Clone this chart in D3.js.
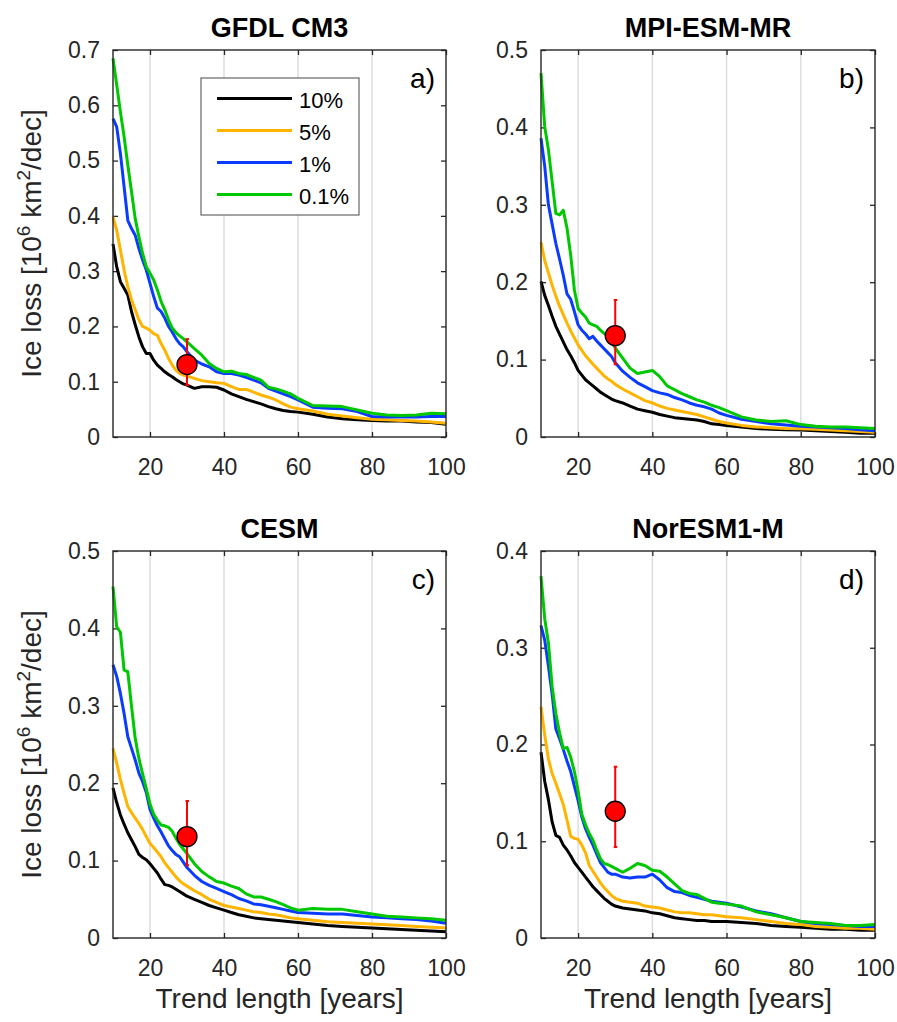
<!DOCTYPE html>
<html lang="en">
<head>
    <meta charset="UTF-8">
    <title>Ice loss vs trend length</title>
    <script src="https://d3js.org/d3.v7.min.js"></script>
    <style>
        body { margin: 0; background: #fff; }
        svg { font-family: "Liberation Sans", Arial, Helvetica, sans-serif; }
        .tick text { fill: #262626; font-size: 23px; }
        .tick line { stroke: #262626; stroke-width: 1.3; }
    </style>
</head>
<body>
<svg id="chart" width="897" height="1022"></svg>
<script>
    // trend lengths (years) at which the curves were read
    const years = [10, 11, 12, 13, 14, 15, 16, 17, 18, 19, 20, 21, 22, 23, 24, 25, 26, 27, 28, 29, 30,
        32, 34, 36, 38, 40, 42, 44, 46, 48, 50, 52, 54, 56, 58, 60,
        64, 68, 72, 76, 80, 84, 88, 92, 96, 100];

    const seriesLabels = ["10%", "5%", "1%", "0.1%"];
    const seriesColors = ["#000000", "#FFB400", "#0A3CFF", "#00C800"];

    // GFDL CM3
    const gfdl10 = [.349, .308, .281, .269, .257, .227, .203, .181, .163, .151, .151, .139, .130, .124, .118, .113, .109, .104, .100, .096, .094,
        .088, .091, .091, .090, .085, .078, .073, .068, .064, .060, .055, .051, .048, .046, .045,
        .041, .036, .033, .031, .030, .029, .029, .027, .026, .023];
    const gfdl5 = [.398, .374, .338, .302, .272, .248, .230, .212, .200, .197, .193, .187, .184, .169, .157, .142, .130, .121, .115, .112, .110,
        .106, .102, .100, .098, .097, .091, .086, .086, .081, .076, .072, .067, .060, .054, .051,
        .047, .041, .038, .035, .032, .031, .030, .029, .027, .025];
    const gfdl1 = [.576, .561, .513, .453, .392, .377, .365, .341, .320, .302, .278, .254, .233, .227, .215, .200, .190, .178, .169, .163, .154,
        .139, .132, .127, .118, .115, .115, .112, .108, .103, .098, .088, .083, .078, .073, .067,
        .054, .052, .051, .046, .037, .036, .036, .036, .037, .037];
    const gfdl01 = [.685, .637, .588, .543, .492, .444, .395, .362, .332, .308, .296, .284, .266, .245, .230, .212, .197, .189, .183, .178, .172,
        .160, .148, .133, .124, .118, .119, .115, .113, .108, .103, .090, .087, .083, .078, .070,
        .057, .056, .055, .049, .043, .040, .039, .040, .043, .042];

    // MPI-ESM-MR
    const mpi10 = [.201, .183, .170, .156, .143, .133, .123, .113, .105, .096, .086, .080, .074, .070, .066, .062, .058, .055, .052, .049, .047,
        .044, .040, .036, .034, .032, .029, .027, .025, .024, .023, .022, .020, .017, .016, .015,
        .013, .011, .010, .0095, .009, .008, .007, .006, .005, .005];
    const mpi5 = [.252, .228, .212, .196, .182, .169, .158, .147, .137, .128, .119, .112, .105, .0995, .094, .089, .084, .079, .075, .072, .068,
        .062, .057, .052, .047, .044, .040, .037, .035, .033, .031, .029, .026, .023, .020, .018,
        .015, .013, .012, .011, .0105, .010, .009, .008, .007, .006];
    const mpi1 = [.386, .350, .300, .275, .250, .230, .209, .185, .178, .162, .145, .138, .133, .127, .130, .124, .119, .114, .109, .104, .096,
        .085, .077, .070, .065, .060, .057, .055, .051, .048, .044, .041, .039, .036, .031, .028,
        .023, .020, .017, .0155, .014, .013, .012, .011, .0095, .008];
    const mpi01 = [.470, .401, .371, .330, .289, .287, .293, .270, .235, .190, .166, .160, .155, .147, .145, .143, .138, .134, .130, .123, .115,
        .102, .089, .082, .084, .086, .078, .066, .061, .056, .052, .048, .045, .041, .038, .034,
        .026, .022, .020, .021, .016, .014, .013, .013, .012, .011];

    // CESM
    const cesm10 = [.194, .175, .159, .147, .136, .127, .118, .108, .104, .101, .096, .090, .084, .076, .069, .068, .066, .063, .060, .057, .054,
        .050, .046, .042, .039, .036, .033, .030, .028, .026, .025, .024, .023, .022, .021, .020,
        .018, .016, .015, .014, .013, .012, .011, .010, .009, .008];
    const cesm5 = [.245, .226, .205, .187, .170, .162, .155, .148, .140, .131, .122, .117, .111, .105, .097, .091, .085, .079, .074, .070, .067,
        .061, .056, .050, .046, .042, .040, .038, .036, .034, .033, .031, .030, .028, .026, .025,
        .023, .021, .020, .019, .018, .017, .016, .015, .014, .013];
    const cesm1 = [.353, .338, .316, .290, .260, .245, .230, .213, .202, .188, .166, .155, .145, .137, .128, .119, .113, .108, .105, .098, .091,
        .081, .073, .068, .064, .060, .056, .051, .048, .044, .043, .041, .039, .037, .035, .033,
        .032, .031, .031, .029, .027, .026, .025, .024, .022, .019];
    const cesm01 = [.454, .402, .395, .346, .344, .300, .258, .232, .212, .193, .173, .160, .152, .146, .145, .143, .138, .129, .121, .115, .109,
        .096, .086, .079, .073, .071, .067, .064, .057, .053, .053, .050, .047, .043, .039, .036,
        .038, .037, .037, .034, .031, .028, .027, .026, .025, .023];

    // NorESM1-M
    const nor10 = [.192, .162, .143, .120, .106, .104, .096, .091, .085, .078, .073, .068, .063, .058, .053, .049, .045, .041, .038, .035, .033,
        .031, .030, .029, .028, .026, .025, .023, .021, .020, .019, .018, .018, .017, .017, .017,
        .016, .015, .013, .012, .011, .010, .009, .009, .008, .008];
    const nor5 = [.239, .210, .185, .170, .160, .149, .138, .122, .105, .103, .102, .096, .088, .075, .069, .063, .057, .052, .048, .044, .041,
        .038, .037, .036, .033, .032, .031, .029, .027, .026, .026, .025, .024, .024, .023, .022,
        .021, .019, .017, .015, .014, .012, .011, .010, .010, .009];
    const nor1 = [.323, .308, .281, .252, .216, .206, .195, .183, .172, .157, .142, .125, .113, .104, .096, .087, .078, .073, .068, .066, .066,
        .063, .062, .063, .063, .066, .060, .052, .048, .047, .044, .042, .040, .038, .037, .036,
        .032, .028, .025, .021, .017, .015, .014, .013, .012, .012];
    const nor01 = [.374, .330, .305, .260, .232, .212, .196, .197, .187, .172, .152, .128, .117, .108, .101, .091, .082, .077, .076, .074, .072,
        .068, .072, .077, .075, .070, .069, .063, .056, .049, .046, .045, .041, .037, .036, .035,
        .033, .027, .024, .021, .017, .016, .015, .013, .013, .014];

    // observed estimate with its range
    const obsYear = 30;
    const obsValue = 0.131;
    const obsLow = 0.094;
    const obsHigh = 0.177;

    const xTicks = [20, 40, 60, 80, 100];
    const yTicks07 = [0, 0.1, 0.2, 0.3, 0.4, 0.5, 0.6, 0.7];
    const yTicks05 = [0, 0.1, 0.2, 0.3, 0.4, 0.5];
    const yTicks04 = [0, 0.1, 0.2, 0.3, 0.4];

    const panels = [
        { title: "GFDL CM3", letter: "a)", series: [gfdl10, gfdl5, gfdl1, gfdl01], ymax: 0.7, yTicks: yTicks07,
          left: 113, right: 446, top: 50, bottom: 437, ylabel: true, xlabel: false, legend: true },
        { title: "MPI-ESM-MR", letter: "b)", series: [mpi10, mpi5, mpi1, mpi01], ymax: 0.5, yTicks: yTicks05,
          left: 541, right: 875, top: 50, bottom: 437, ylabel: false, xlabel: false, legend: false },
        { title: "CESM", letter: "c)", series: [cesm10, cesm5, cesm1, cesm01], ymax: 0.5, yTicks: yTicks05,
          left: 113, right: 446, top: 551, bottom: 938, ylabel: true, xlabel: true, legend: false },
        { title: "NorESM1-M", letter: "d)", series: [nor10, nor5, nor1, nor01], ymax: 0.4, yTicks: yTicks04,
          left: 541, right: 875, top: 551, bottom: 938, ylabel: false, xlabel: true, legend: false }
    ];

    const svg = d3.select("#chart");
    const yFmt = d => d === 0 ? "0" : d3.format(".1f")(d);

    panels.forEach(p => {
        const x = d3.scaleLinear().domain([10, 100]).range([p.left, p.right]);
        const y = d3.scaleLinear().domain([0, p.ymax]).range([p.bottom, p.top]);
        const g = svg.append("g");

        // vertical grid
        g.selectAll(".grid")
            .data(xTicks.filter(t => t < 100))
            .enter().append("line")
            .attr("x1", d => x(d)).attr("x2", d => x(d))
            .attr("y1", p.top).attr("y2", p.bottom)
            .attr("stroke", "#dedede")
            .attr("stroke-width", 1.5);

        // axes with inward ticks
        const bottomAxis = g.append("g")
            .attr("transform", `translate(0,${p.bottom})`)
            .call(d3.axisBottom(x).tickValues(xTicks).tickSizeInner(-5).tickSizeOuter(0).tickPadding(22));
        const topAxis = g.append("g")
            .attr("transform", `translate(0,${p.top})`)
            .call(d3.axisTop(x).tickValues(xTicks).tickSizeInner(-5).tickSizeOuter(0).tickFormat(""));
        const leftAxis = g.append("g")
            .attr("transform", `translate(${p.left},0)`)
            .call(d3.axisLeft(y).tickValues(p.yTicks).tickFormat(yFmt).tickSizeInner(-5).tickSizeOuter(0).tickPadding(13));
        const rightAxis = g.append("g")
            .attr("transform", `translate(${p.right},0)`)
            .call(d3.axisRight(y).tickValues(p.yTicks).tickSizeInner(-5).tickSizeOuter(0).tickFormat(""));
        [bottomAxis, topAxis, leftAxis, rightAxis].forEach(a => a.select(".domain").remove());
        g.selectAll(".tick text").attr("font-family", null).attr("font-size", null);

        // curves
        const line = d3.line()
            .x((d, i) => x(years[i]))
            .y(d => y(d));
        p.series.forEach((s, i) => {
            g.append("path")
                .datum(s)
                .attr("fill", "none")
                .attr("stroke", seriesColors[i])
                .attr("stroke-width", 3)
                .attr("stroke-linejoin", "round")
                .attr("d", line);
        });

        // observation with error bar
        g.append("line")
            .attr("x1", x(obsYear)).attr("x2", x(obsYear))
            .attr("y1", y(obsLow)).attr("y2", y(obsHigh))
            .attr("stroke", "#ff0000").attr("stroke-width", 2);
        [obsLow, obsHigh].forEach(v => {
            g.append("line")
                .attr("x1", x(obsYear) - 1.5).attr("x2", x(obsYear) + 2)
                .attr("y1", y(v)).attr("y2", y(v))
                .attr("stroke", "#ff0000").attr("stroke-width", 2);
        });
        g.append("circle")
            .attr("cx", x(obsYear)).attr("cy", y(obsValue))
            .attr("r", 10)
            .attr("fill", "#ff0000")
            .attr("stroke", "#000").attr("stroke-width", 1.3);

        // frame
        g.append("rect")
            .attr("x", p.left).attr("y", p.top)
            .attr("width", p.right - p.left).attr("height", p.bottom - p.top)
            .attr("fill", "none")
            .attr("stroke", "#262626")
            .attr("stroke-width", 1.4);

        // title and panel letter
        g.append("text")
            .attr("x", (p.left + p.right) / 2).attr("y", p.top - 13)
            .attr("text-anchor", "middle")
            .attr("font-size", "27px").attr("font-weight", "bold")
            .attr("fill", "#000")
            .text(p.title);
        g.append("text")
            .attr("x", p.right - 11).attr("y", p.top + 38)
            .attr("text-anchor", "end")
            .attr("font-size", "28px")
            .attr("fill", "#000")
            .text(p.letter);

        if (p.ylabel) {
            const t = g.append("text")
                .attr("transform", `translate(41,${(p.top + p.bottom) / 2}) rotate(-90)`)
                .attr("text-anchor", "middle")
                .attr("font-size", "28px")
                .attr("fill", "#262626");
            t.append("tspan").text("Ice loss [10");
            t.append("tspan").attr("font-size", "19px").attr("dy", -11).text("6");
            t.append("tspan").attr("dy", 11).text(" km");
            t.append("tspan").attr("font-size", "19px").attr("dy", -11).text("2");
            t.append("tspan").attr("dy", 11).text("/dec]");
        }
        if (p.xlabel) {
            g.append("text")
                .attr("x", (p.left + p.right) / 2).attr("y", 1008)
                .attr("text-anchor", "middle")
                .attr("font-size", "28px")
                .attr("fill", "#262626")
                .text("Trend length [years]");
        }

        if (p.legend) {
            const lg = g.append("g");
            lg.append("rect")
                .attr("x", 201).attr("y", 78)
                .attr("width", 158).attr("height", 137)
                .attr("fill", "#fff")
                .attr("stroke", "#666").attr("stroke-width", 1.2);
            seriesLabels.forEach((lab, i) => {
                const yy = 98.5 + i * 32;
                lg.append("line")
                    .attr("x1", 217).attr("x2", 292)
                    .attr("y1", yy).attr("y2", yy)
                    .attr("stroke", seriesColors[i]).attr("stroke-width", 3);
                lg.append("text")
                    .attr("x", 299).attr("y", yy + 2)
                    .attr("dy", "0.35em")
                    .attr("font-size", "22px")
                    .attr("fill", "#000")
                    .text(lab);
            });
        }
    });
</script>
</body>
</html>
